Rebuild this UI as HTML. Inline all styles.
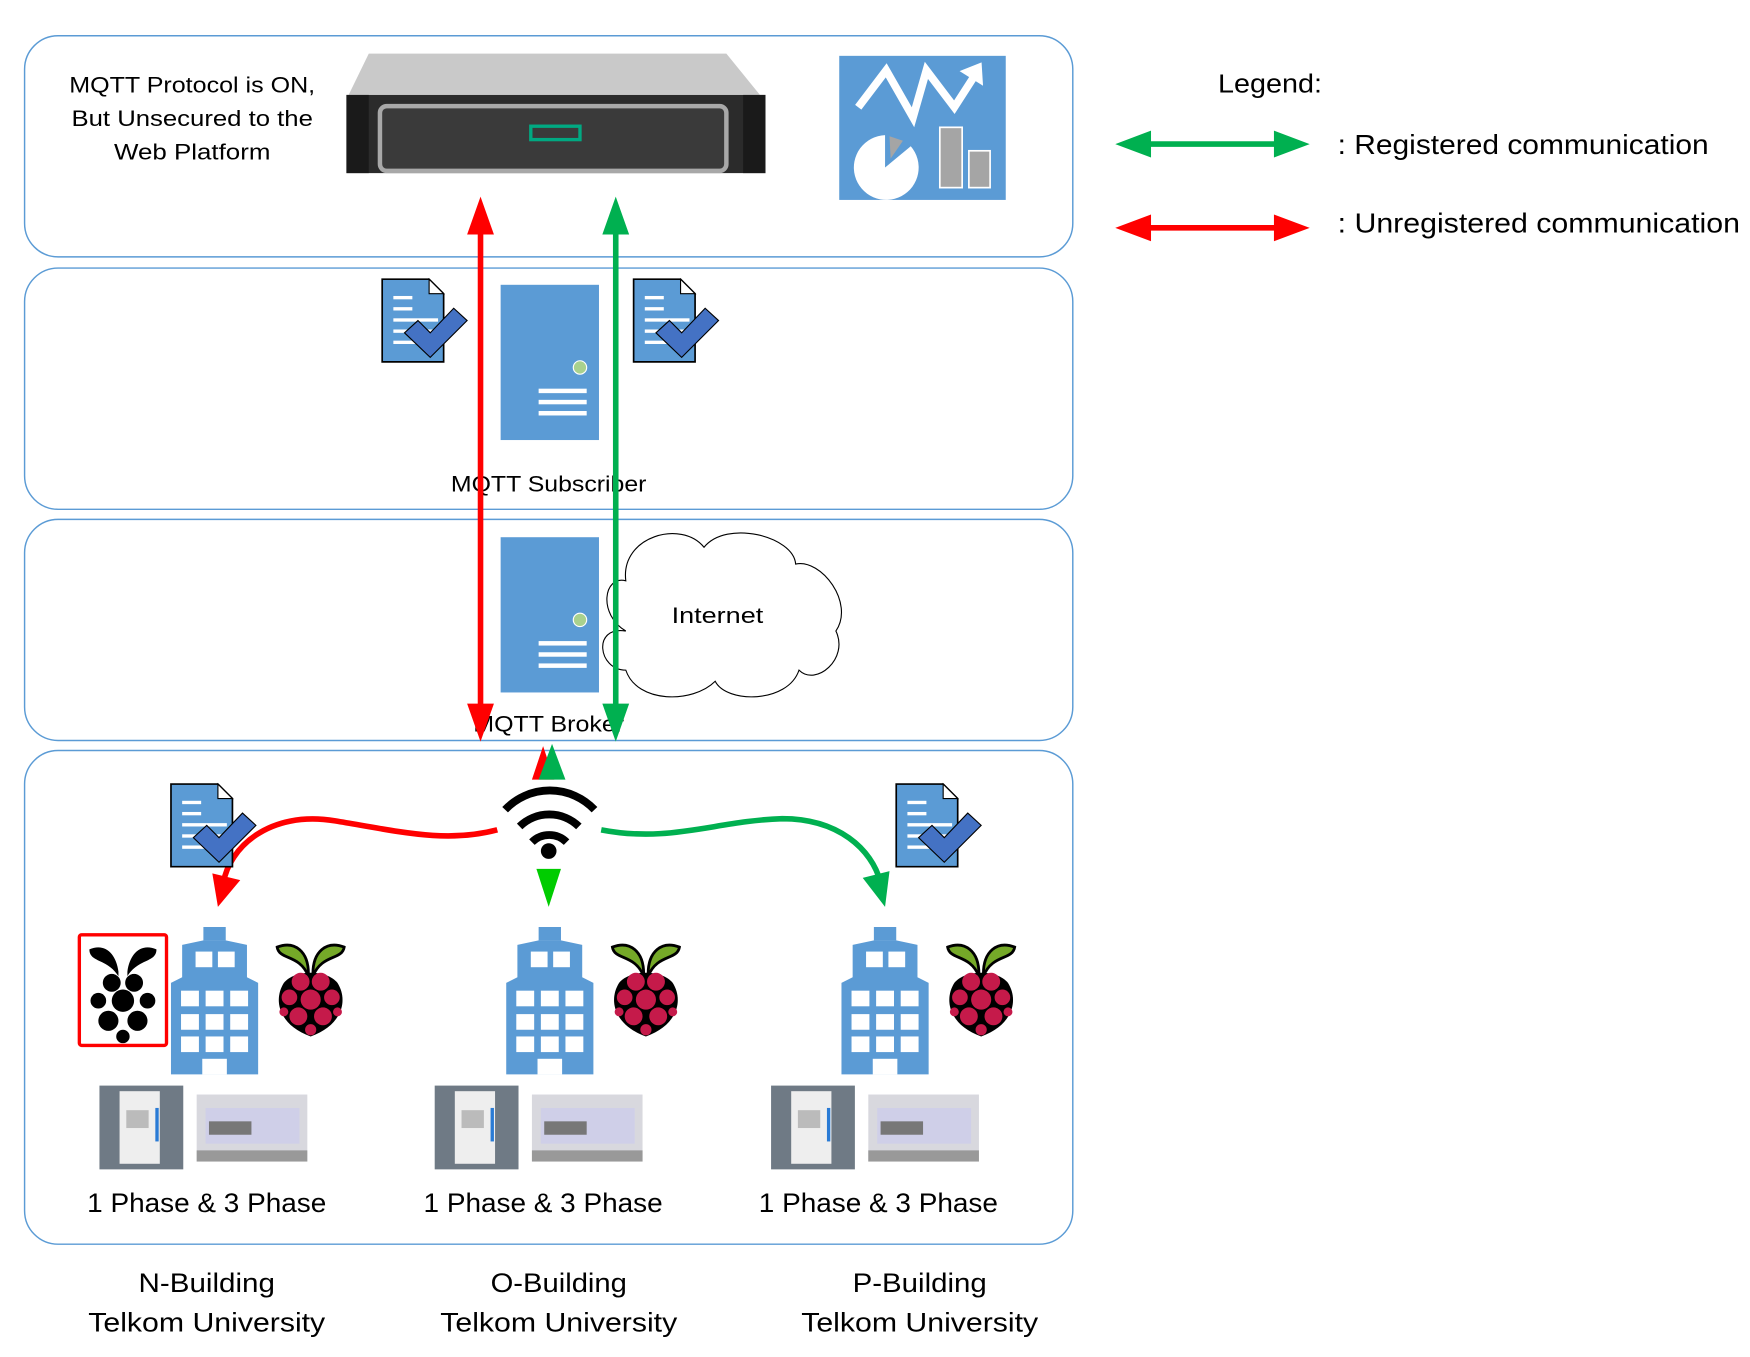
<!DOCTYPE html>
<html><head><meta charset="utf-8"><style>html,body{margin:0;padding:0;background:#fff}svg{display:block}text{font-family:"Liberation Sans",sans-serif;fill:#000}</style></head>
<body>
<svg width="1750" height="1357" viewBox="0 0 1566 1215" preserveAspectRatio="none" xmlns="http://www.w3.org/2000/svg">
<defs>
<g id="doc">
<path d="M0 0 H42 L55 13 V74 H0 Z" fill="#5b9bd5" stroke="#000" stroke-width="1.5"/>
<path d="M42 0 L55 13 H42 Z" fill="#fff" stroke="#000" stroke-width="1"/>
<rect x="10" y="15" width="17" height="3" fill="#fff"/><rect x="10" y="25" width="17" height="3" fill="#fff"/>
<rect x="10" y="35" width="40" height="3" fill="#fff"/><rect x="10" y="45" width="40" height="3" fill="#fff"/><rect x="10" y="55" width="40" height="3" fill="#fff"/>
<path d="M20 48 L32 37 L43 48 L64 26 L76 37 L43 70 Z" fill="#4472c4" stroke="#000" stroke-width="1"/>
</g>
<g id="tower">
<rect x="0" y="0" width="88" height="139" fill="#5b9bd5"/>
<circle cx="71" cy="74" r="6" fill="#a9d18e" stroke="#fff" stroke-width="1"/>
<rect x="34" y="93" width="43" height="4" fill="#fff"/><rect x="34" y="103" width="43" height="4" fill="#fff"/><rect x="34" y="113" width="43" height="4" fill="#fff"/>
</g>
<g id="bldg">
<rect x="29" y="0" width="20" height="12" fill="#5b9bd5"/>
<path d="M10 16 L29 12 H49 L68 16 V45 L78 50 V132 H0 V50 L10 45 Z" fill="#5b9bd5"/>
<rect x="22" y="22" width="15" height="14" fill="#fff"/><rect x="42" y="22" width="15" height="14" fill="#fff"/>
<g fill="#fff"><rect x="9" y="57" width="16" height="14"/><rect x="31" y="57" width="16" height="14"/><rect x="53" y="57" width="16" height="14"/>
<rect x="9" y="78" width="16" height="14"/><rect x="31" y="78" width="16" height="14"/><rect x="53" y="78" width="16" height="14"/>
<rect x="9" y="98" width="16" height="14"/><rect x="31" y="98" width="16" height="14"/><rect x="53" y="98" width="16" height="14"/>
<rect x="28" y="118" width="22" height="14"/></g>
</g>
<g id="rasp">
<path d="M-2 -14 C-10 -34 -28 -28 -30 -40 C-14 -46 -2 -36 -2 -16 Z" fill="#75a928" stroke="#000" stroke-width="2.5"/>
<path d="M2 -14 C10 -34 28 -28 30 -40 C14 -46 2 -36 2 -16 Z" fill="#75a928" stroke="#000" stroke-width="2.5"/>
<path d="M-24 -8 C-14 -20 14 -20 24 -8 C34 8 28 30 0 40 C-28 30 -34 8 -24 -8 Z" fill="#000"/>
<g fill="#c51a4a"><circle cx="-9" cy="-9" r="8"/><circle cx="9" cy="-9" r="8"/><circle cx="0" cy="7" r="9"/><circle cx="-19" cy="5" r="7"/><circle cx="19" cy="5" r="7"/><circle cx="-11" cy="22" r="8"/><circle cx="11" cy="22" r="8"/><circle cx="0" cy="34" r="5"/><circle cx="-24" cy="18" r="4"/><circle cx="24" cy="18" r="4"/></g>
</g>
<g id="meters">
<rect x="0" y="0" width="75" height="75" fill="#6f7a85"/><rect x="18" y="5" width="36" height="65" fill="#eee"/><rect x="24" y="22" width="20" height="16" fill="#bbb"/><rect x="50" y="20" width="3" height="30" fill="#2a7bd5"/>
<rect x="87" y="8" width="99" height="60" fill="#d8d8de"/><rect x="95" y="20" width="84" height="32" fill="#cfcfe8"/><rect x="98" y="32" width="38" height="12" fill="#777"/><rect x="87" y="58" width="99" height="10" fill="#999"/>
</g>
</defs>

<g fill="none" stroke="#5b9bd5" stroke-width="1.3">
<rect x="22" y="32" width="938" height="198" rx="30"/>
<rect x="22" y="240" width="938" height="216" rx="30"/>
<rect x="22" y="465" width="938" height="198" rx="30"/>
<rect x="22" y="672" width="938" height="442" rx="30"/>
</g>

<text x="172" y="83" font-size="20" text-anchor="middle" textLength="220" lengthAdjust="spacingAndGlyphs">MQTT Protocol is ON,</text>
<text x="172" y="113" font-size="20" text-anchor="middle" textLength="216" lengthAdjust="spacingAndGlyphs">But Unsecured to the</text>
<text x="172" y="143" font-size="20" text-anchor="middle" textLength="140" lengthAdjust="spacingAndGlyphs">Web Platform</text>

<!-- rack server -->
<path d="M330 48 H650 L680 85 H312 Z" fill="#c9c9c9"/>
<rect x="310" y="85" width="375" height="70" fill="#2b2b2b"/>
<rect x="310" y="85" width="20" height="70" fill="#1a1a1a"/><rect x="665" y="85" width="20" height="70" fill="#1a1a1a"/>
<rect x="340" y="95" width="310" height="58" rx="6" fill="#3a3a3a" stroke="#a8a8a8" stroke-width="4"/>
<rect x="475" y="113" width="44" height="12" fill="none" stroke="#01a982" stroke-width="3"/>

<!-- dashboard -->
<rect x="751" y="50" width="149" height="129" fill="#5b9bd5"/>
<polyline points="768,96 793,63 817,105 829,63 854,96 872,68" fill="none" stroke="#fff" stroke-width="7" stroke-linejoin="miter"/>
<path d="M862 64 L877 58 L878 74 Z" fill="#fff" stroke="#fff" stroke-width="3"/>
<path d="M792 121 A29 29 0 1 0 815 131 L792 150 Z" fill="#fff"/>
<path d="M796 122 L808 126 L797 142 Z" fill="#a5a5a5"/>
<rect x="841" y="114" width="20" height="54" fill="#a5a5a5" stroke="#fff" stroke-width="1.5"/>
<rect x="867" y="135" width="19" height="33" fill="#a5a5a5" stroke="#fff" stroke-width="1.5"/>

<!-- legend -->
<text x="1090" y="83" font-size="23" textLength="93" lengthAdjust="spacingAndGlyphs">Legend:</text>
<line x1="1020" y1="129" x2="1150" y2="129" stroke="#00b050" stroke-width="5"/>
<path d="M998 129 L1030 117 V141 Z M1172 129 L1140 117 V141 Z" fill="#00b050"/>
<line x1="1020" y1="204" x2="1150" y2="204" stroke="#f00" stroke-width="5"/>
<path d="M998 204 L1030 192 V216 Z M1172 204 L1140 192 V216 Z" fill="#f00"/>
<text x="1197" y="138" font-size="25" textLength="332" lengthAdjust="spacingAndGlyphs">: Registered communication</text>
<text x="1197" y="208" font-size="25" textLength="360" lengthAdjust="spacingAndGlyphs">: Unregistered communication</text>

<!-- subscriber layer -->
<use href="#doc" x="342" y="250"/>
<use href="#doc" x="567" y="250"/>
<use href="#tower" x="448" y="255"/>
<text x="491" y="440" font-size="20" text-anchor="middle" textLength="175" lengthAdjust="spacingAndGlyphs">MQTT Subscriber</text>

<!-- broker layer -->
<path d="M560 520 C555 480 610 465 630 490 C650 465 710 480 712 505 C735 500 765 540 748 565 C760 590 730 615 715 600 C705 630 650 630 640 610 C620 630 570 630 560 600 C535 600 530 560 560 565 C535 550 540 515 560 520 Z" fill="#fff" stroke="#000" stroke-width="1"/>
<use href="#tower" x="448" y="481"/>
<text x="642" y="558" font-size="20" text-anchor="middle" textLength="82" lengthAdjust="spacingAndGlyphs">Internet</text>
<text x="491" y="655" font-size="20" text-anchor="middle" textLength="135" lengthAdjust="spacingAndGlyphs">MQTT Broker</text>

<!-- vertical arrows -->
<line x1="430" y1="200" x2="430" y2="640" stroke="#f00" stroke-width="5"/>
<path d="M430 176 L418 210 H442 Z M430 664 L418 630 H442 Z" fill="#f00"/>
<line x1="551" y1="200" x2="551" y2="640" stroke="#00b050" stroke-width="5"/>
<path d="M551 176 L539 210 H563 Z M551 664 L539 630 H563 Z" fill="#00b050"/>

<!-- wifi -->
<path d="M486 668 L476 698 H496 Z" fill="#f00"/>
<path d="M494 666 L482 698 H506 Z" fill="#00b050"/>
<g fill="none" stroke="#000" stroke-width="7">
<path d="M452 725 A55 55 0 0 1 532 725"/>
<path d="M465 740 A38 38 0 0 1 518 740"/>
<path d="M476 754 A22 22 0 0 1 507 754"/>
</g>
<circle cx="491" cy="762" r="7" fill="#000"/>
<path d="M491 812 L480 778 H502 Z" fill="#00cc00"/>

<!-- curves -->
<path d="M445 743 C400 755 360 745 300 735 C240 725 205 760 200 790" fill="none" stroke="#f00" stroke-width="5"/>
<path d="M195 812 L190 782 L215 788 Z" fill="#f00"/>
<path d="M538 743 C600 755 640 735 700 733 C750 733 780 760 788 790" fill="none" stroke="#00b050" stroke-width="5"/>
<path d="M792 812 L772 786 L796 780 Z" fill="#00b050"/>

<use href="#doc" x="153" y="702"/>
<use href="#doc" x="802" y="702"/>

<!-- buildings -->
<rect x="71" y="837" width="78" height="99" fill="none" stroke="#f00" stroke-width="3" rx="2"/>
<g transform="translate(110 888)">
<path d="M-4 -14 C-14 -30 -30 -26 -30 -38 C-16 -44 -6 -34 -4 -18 Z M4 -14 C14 -30 30 -26 30 -38 C16 -44 6 -34 4 -18 Z" fill="#000"/>
<g fill="#000"><circle cx="-10" cy="-8" r="8"/><circle cx="10" cy="-8" r="8"/><circle cx="0" cy="8" r="10"/><circle cx="-22" cy="8" r="7"/><circle cx="22" cy="8" r="7"/><circle cx="-13" cy="26" r="9"/><circle cx="13" cy="26" r="9"/><circle cx="0" cy="40" r="6"/></g>
</g>
<use href="#bldg" x="153" y="830"/>
<use href="#bldg" x="453" y="830"/>
<use href="#bldg" x="753" y="830"/>
<use href="#rasp" x="278" y="888"/>
<use href="#rasp" x="578" y="888"/>
<use href="#rasp" x="878" y="888"/>
<use href="#meters" x="89" y="972"/>
<use href="#meters" x="389" y="972"/>
<use href="#meters" x="690" y="972"/>

<g font-size="24" text-anchor="middle">
<text x="185" y="1085" textLength="214" lengthAdjust="spacingAndGlyphs">1 Phase &amp; 3 Phase</text>
<text x="486" y="1085" textLength="214" lengthAdjust="spacingAndGlyphs">1 Phase &amp; 3 Phase</text>
<text x="786" y="1085" textLength="214" lengthAdjust="spacingAndGlyphs">1 Phase &amp; 3 Phase</text>
<text x="185" y="1157" textLength="122" lengthAdjust="spacingAndGlyphs">N-Building</text>
<text x="185" y="1192" textLength="212" lengthAdjust="spacingAndGlyphs">Telkom University</text>
<text x="500" y="1157" textLength="122" lengthAdjust="spacingAndGlyphs">O-Building</text>
<text x="500" y="1192" textLength="212" lengthAdjust="spacingAndGlyphs">Telkom University</text>
<text x="823" y="1157" textLength="120" lengthAdjust="spacingAndGlyphs">P-Building</text>
<text x="823" y="1192" textLength="212" lengthAdjust="spacingAndGlyphs">Telkom University</text>
</g>
</svg>
</body></html>
